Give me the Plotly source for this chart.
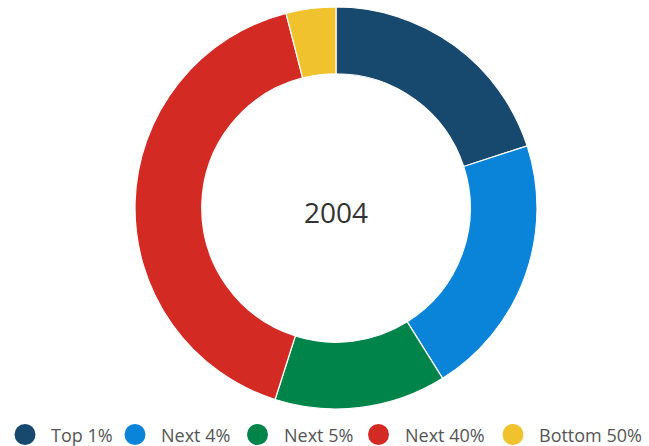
import plotly.graph_objects as go

# Share of total by income group, 2004
groups = ["Top 1%", "Next 4%", "Next 5%", "Next 40%", "Bottom 50%"]
shares = [20.0, 21.1, 13.8, 41.1, 4.0]
colors = ["#17496e", "#0a84d8", "#00844a", "#d42a24", "#f0c22e"]
year_label = "2004"

W, H = 649, 446

fig = go.Figure()

fig.add_trace(go.Pie(
    labels=groups,
    values=shares,
    hole=0.668,
    sort=False,
    direction="clockwise",
    rotation=0,
    marker=dict(colors=colors, line=dict(color="white", width=1.2)),
    textinfo="none",
    showlegend=False,
    domain=dict(x=[23 / W, 1], y=[37 / H, 1 - 7 / H]),
))

fig.add_annotation(
    text=year_label, x=336 / W, y=1 - 212 / H, xref="paper", yref="paper",
    xanchor="center", yanchor="middle",
    showarrow=False, font=dict(family="Open Sans", size=28, color="#333333"),
)

# Legend row below the ring: round swatch + label per group
legend_cx = [25, 135, 257.5, 378.5, 513]
legend_cy = 434.5
r = 10.5
for name, col, cx in zip(groups, colors, legend_cx):
    fig.add_shape(
        type="circle", xref="paper", yref="paper",
        x0=(cx - r) / W, x1=(cx + r) / W,
        y0=1 - (legend_cy + r) / H, y1=1 - (legend_cy - r) / H,
        fillcolor=col, line=dict(width=0),
    )
    fig.add_annotation(
        text=name, x=(cx + 24) / W, y=1 - legend_cy / H,
        xref="paper", yref="paper", xanchor="left", yanchor="middle",
        showarrow=False, font=dict(family="Open Sans", size=18, color="#555555"),
    )

fig.update_layout(
    width=W, height=H,
    margin=dict(l=0, r=0, t=0, b=0),
    paper_bgcolor="white", plot_bgcolor="white",
    showlegend=False,
)

fig.write_html("out.html")
